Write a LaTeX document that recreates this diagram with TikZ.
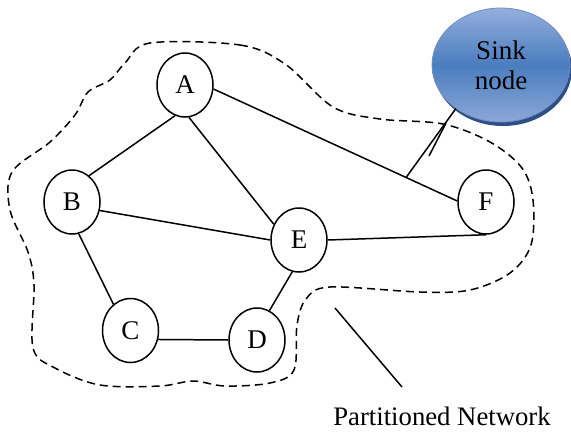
\documentclass[tikz,border=0pt]{standalone}
\usepackage{fontspec}
\setmainfont{Liberation Serif}
\usetikzlibrary{shapes.geometric,shadows,calc}
\definecolor{sinktop}{HTML}{93AEDC}
\definecolor{sinkmid}{HTML}{4A7DBE}
\definecolor{sinkbot}{HTML}{8BA8D8}
\definecolor{sinkline}{HTML}{6F8FC6}
\definecolor{sinkshadow}{HTML}{2E4F86}
\begin{document}
\begin{tikzpicture}[x=1pt,y=-1pt,
  vert/.style={ellipse,draw,line width=1.5pt,minimum width=56pt,minimum height=64pt,inner sep=0pt,font=\fontsize{27}{30}\selectfont},
  conn/.style={line width=1.5pt},
  outline/.style={line width=1.5pt,dash pattern=on 8pt off 5pt},
  sinkbox/.style={ellipse,draw=sinkline,line width=0.8pt,minimum width=138pt,minimum height=114pt,inner sep=0pt,
    top color=sinktop,bottom color=sinkbot,middle color=sinkmid,
    drop shadow={shadow xshift=2pt,shadow yshift=-4pt,fill=sinkshadow,opacity=1},
    align=center,font=\fontsize{27}{30}\selectfont},
  label/.style={font=\fontsize{26.7}{30}\selectfont}]
\useasboundingbox (0,0) rectangle (571,432);

% dashed partition outline
\draw[outline] plot[smooth cycle,tension=0.55] coordinates {
 (150,43) (240,45) (285,64) (333,107) (380,119) (443,124) (490,142) (522,168) (533,200) (531,245) (510,273) (470,290) (420,292) (330,287) (306,299) (297,325) (294,370) (270,383) (225,386) (193,381) (160,386) (100,385) (55,368) (33,348) (34,285) (28,252) (10,210) (12,172) (50,142) (75,115) (88,92) (110,80) (125,63)};

% nodes
\node[vert] (A) at (185,85) {A};
\node[vert] (B) at (72,202) {B};
\node[vert] (C) at (130.5,330.5) {C};
\node[vert] (D) at (257,340) {D};
\node[vert] (E) at (299,240) {E};
\node[vert] (F) at (486,202) {F};
\node[sinkbox] (S) at (501,65) {Sink\\node};

% edges
\draw[conn] (A.252) -- (B.57);
\draw[conn] (A.277) -- (E.148);
\draw[conn] (A.352) -- (F.178);
\draw[conn] (B.343) -- (E.180);
\draw[conn] (B.282) -- (C.123);
\draw[conn] (E.0) -- (F.south);
\draw[conn] (E.258) -- (D.67);
\draw[conn] (C.342) -- (D.180);

% wireless link to sink
\coordinate (w1) at ($(A.352)!0.79!(F.178)$);
\coordinate (w2) at (446,123);
\coordinate (w3) at (429,156);
\draw[conn] (S.224) -- (w1);
\draw[conn] (w2) -- (w3);

% partitioned network label
\node[label,anchor=base] (P) at (442,425) {Partitioned Network};
\coordinate (p1) at (335,308);
\coordinate (p2) at (402,387);
\draw[conn] (p1) -- (p2);
\end{tikzpicture}
\end{document}
